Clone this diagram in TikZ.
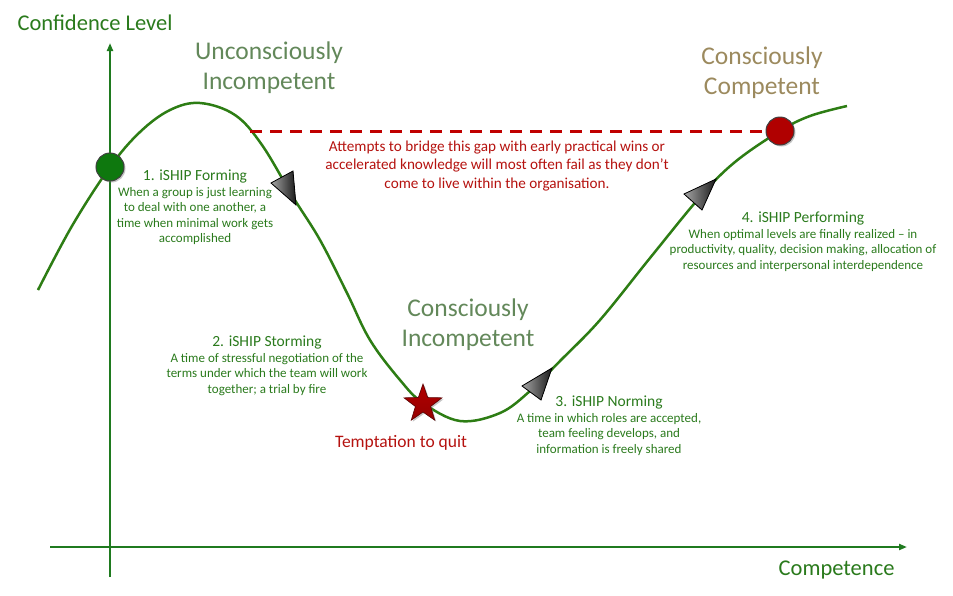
\documentclass[tikz,border=0pt]{standalone}
\usepackage{fontspec}
\setmainfont{Carlito}
\usetikzlibrary{positioning, arrows.meta, shapes.geometric, shadows}
\definecolor{axisgreen}{HTML}{1F7A1F}
\definecolor{curvegreen}{HTML}{2D7D14}
\definecolor{labelgreen}{HTML}{2A7A1C}
\definecolor{stagegreen}{HTML}{63885A}
\definecolor{stagetan}{HTML}{9C8A5E}
\definecolor{gapred}{HTML}{B5120F}
\definecolor{dashred}{HTML}{C00000}
\definecolor{dotgreen}{HTML}{0E780E}
\definecolor{dotred}{HTML}{B00000}
\newcommand{\phasehead}[1]{{\fontsize{15.5}{17}\selectfont #1}}

\begin{document}
\begin{tikzpicture}[x=1pt, y=-1pt,
  axis/.style={axisgreen, line width=2.4pt, -{Triangle[length=8pt, width=6pt]}},
  axislabel/.style={labelgreen, font=\fontsize{22.5}{26}\selectfont},
  stage/.style={align=center, font=\fontsize{25.5}{30}\selectfont},
  phase/.style={labelgreen, align=center, anchor=north, inner sep=0pt, font=\fontsize{13}{15.5}\selectfont},
  tri/.style={draw=black, line width=0.8pt, left color=black!35, right color=black!90},
  dot/.style={circle, minimum size=28pt, inner sep=0pt, draw=black!75, line width=1pt,
    drop shadow={shadow xshift=1.5pt, shadow yshift=-1.5pt, opacity=0.45}}]

  \useasboundingbox (0,0) rectangle (953,595);

  % axes
  \coordinate (ybot) at (110,577);
  \coordinate (ytop) at (110,43);
  \coordinate (xleft) at (50,547);
  \coordinate (xright) at (907,547);
  \draw[axis] (ybot) -- (ytop);
  \draw[axis] (xleft) -- (xright);
  \node[axislabel, anchor=base west] (ylabel) at (14,30) {Confidence Level};
  \node[axislabel, anchor=base east] (xlabel) at (898,575) {Competence};

  % learning curve
  \draw[curvegreen, line width=2.5pt, line join=round] plot[smooth, tension=0.6] coordinates {
    (38,290) (72,226) (110,167) (140,132) (170,110) (200,103) (235,115) (262,145)
    (293,197) (320,240) (347,293) (370,340) (400,380) (423,403) (460,421) (500,413)
    (530,391) (560,361) (600,320) (650,258) (700,197) (735,162) (780,131) (810,116) (847,106)};

  % gap between the two dots
  \coordinate (gapstart) at (250,131);
  \node[dot, fill=dotgreen] (start) at (110,167) {};
  \node[dot, fill=dotred] (goal) at (780,131) {};
  \draw[dashred, line width=3pt, dash pattern=on 12pt off 8pt] (gapstart) -- (goal.west);
  \node[gapred, align=center, font=\fontsize{15.2}{18.5}\selectfont] (gapnote) at (497,166)
    {Attempts to bridge this gap with early practical wins or\\
     accelerated knowledge will most often fail as they don’t\\
     come to live within the organisation.};

  % temptation
  \node[star, star points=5, star point ratio=2.5, minimum size=40pt, inner sep=0pt,
        top color=dotred, bottom color=dotred!85!black, draw=dotred!50!black, line width=0.6pt,
        drop shadow={shadow xshift=1.5pt, shadow yshift=-1.5pt, opacity=0.45}] (quit) at (423,404) {};
  \node[gapred, font=\fontsize{17.5}{21}\selectfont] (quitlabel) at (401,443) {Temptation to quit};

  % stages
  \node[stage, stagegreen] (unconsc) at (269,68) {Unconsciously\\Incompetent};
  \node[stage, stagetan] (consc) at (762,73) {Consciously\\Competent};
  \node[stage, stagegreen] (conscinc) at (468,325) {Consciously\\Incompetent};

  % phases
  \node[phase] (forming) at (195,170)
    {\phasehead{1. iSHIP Forming}\\When a group is just learning\\to deal with one another, a\\time when minimal work gets\\accomplished};
  \node[phase] (storming) at (267,336)
    {\phasehead{2. iSHIP Storming}\\A time of stressful negotiation of the\\terms under which the team will work\\together; a trial by fire};
  \node[phase] (norming) at (609,396)
    {\phasehead{3. iSHIP Norming}\\A time in which roles are accepted,\\team feeling develops, and\\information is freely shared};
  \node[phase] (performing) at (803,212)
    {\phasehead{4. iSHIP Performing}\\When optimal levels are finally realized -- in\\productivity, quality, decision making, allocation of\\resources and interpersonal interdependence};

  % direction marks
  \filldraw[tri] (296,205) -- (271,183) -- (293,171) -- cycle;
  \filldraw[tri] (552,368) -- (522,386) -- (541,400) -- cycle;
  \filldraw[tri] (716,179) -- (684,194) -- (702,210) -- cycle;
\end{tikzpicture}
\end{document}
